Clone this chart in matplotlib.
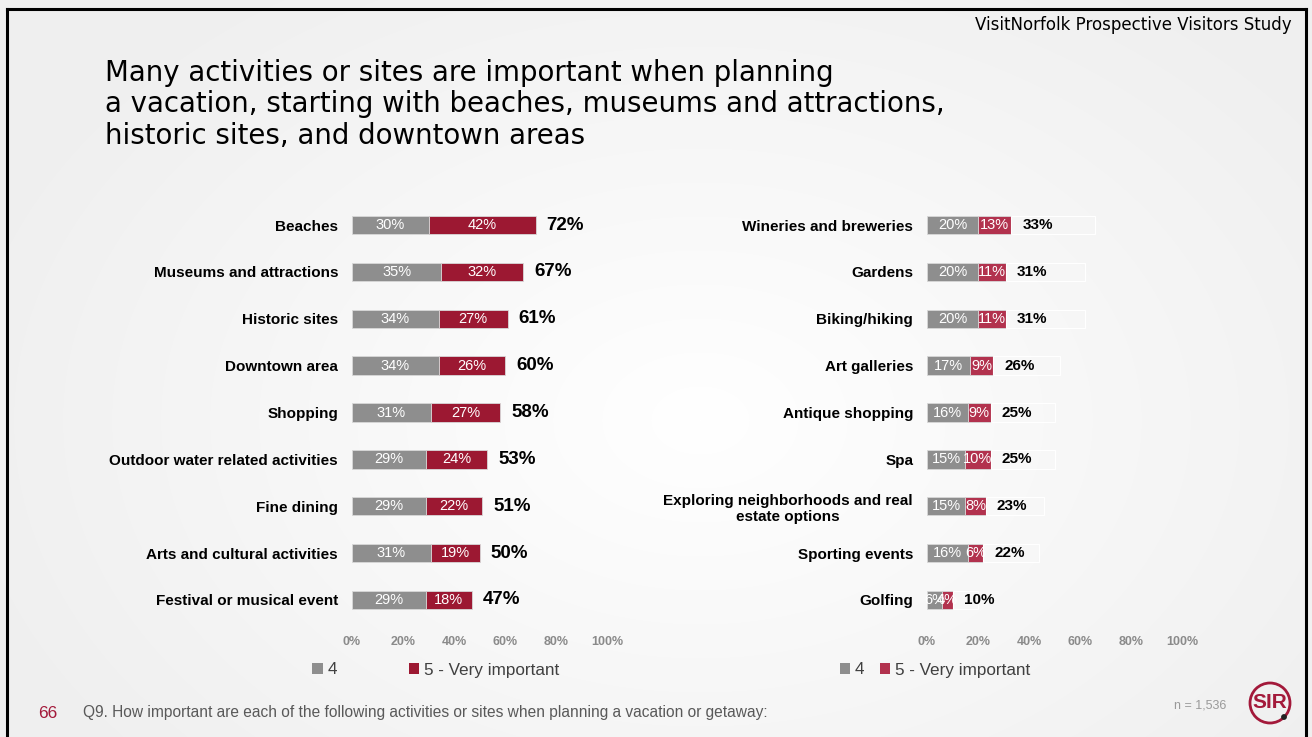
import numpy as np
import matplotlib
matplotlib.use("Agg")
import matplotlib.pyplot as plt
from matplotlib.patches import Patch, Circle

# ---- data ----
left_categories = ["Beaches", "Museums and attractions", "Historic sites", "Downtown area",
                   "Shopping", "Outdoor water related activities", "Fine dining",
                   "Arts and cultural activities", "Festival or musical event"]
left_four = [30, 35, 34, 34, 31, 29, 29, 31, 29]
left_five = [42, 32, 27, 26, 27, 24, 22, 19, 18]
left_total = [72, 67, 61, 60, 58, 53, 51, 50, 47]

right_categories = ["Wineries and breweries", "Gardens", "Biking/hiking", "Art galleries",
                    "Antique shopping", "Spa", "Exploring neighborhoods and real\nestate options",
                    "Sporting events", "Golfing"]
right_four = [20, 20, 20, 17, 16, 15, 15, 16, 6]
right_five = [13, 11, 11, 9, 9, 10, 8, 6, 4]
right_total = [33, 31, 31, 26, 25, 25, 23, 22, 10]

x_ticks = [0, 20, 40, 60, 80, 100]
x_tick_labels = ["0%", "20%", "40%", "60%", "80%", "100%"]
series_names = ["4", "5 - Very important"]

GRAY = "#8E8E8E"
RED_L = "#9C1832"
RED_R = "#B2324E"
REG = ["Liberation Sans", "DejaVu Sans"]
WIDE = ["DejaVu Sans"]

W, H = 1312, 737
fig = plt.figure(figsize=(W / 100, H / 100), dpi=100)

# soft slide background
bg = fig.add_axes([0, 0, 1, 1], zorder=-10)
yy, xx = np.mgrid[0:H, 0:W]
d = np.sqrt(((xx - 700) / 750.0) ** 2 + ((yy - 420) / 520.0) ** 2)
shade = 1.0 - 0.06 * np.clip(d, 0, 1)
bg.imshow(np.dstack([shade] * 3), extent=[0, W, H, 0], aspect="auto")
bg.set_xlim(0, W)
bg.set_ylim(H, 0)
bg.axis("off")

# slide frame
bg.plot([7, 7], [8.5, H + 5], color="black", lw=2.2)
bg.plot([7, 1306], [8.5, 8.5], color="black", lw=2.2)
bg.plot([1306, 1306], [8.5, H + 5], color="black", lw=2.2)


def px_axes(x0, x1, y0, y1):
    return fig.add_axes([x0 / W, 1 - y1 / H, (x1 - x0) / W, (y1 - y0) / H])


def draw_panel(ax, cats, four, five, total, red, lab_fs, tot_fs, outline):
    y = np.arange(len(cats))
    h = 0.39
    ax.barh(y, four, height=h, color=GRAY, edgecolor="#d8d8d8", lw=0.6)
    ax.barh(y, five, left=four, height=h, color=red, edgecolor="#d8d8d8", lw=0.6)
    if outline:
        ax.barh(y, total, left=total, height=h, color="none", edgecolor="white", lw=0.8)
    for i in range(len(cats)):
        ax.text(four[i] / 2, y[i], f"{four[i]}%", ha="center", va="center",
                color="white", fontsize=lab_fs, family=REG)
        ax.text(four[i] + five[i] / 2, y[i], f"{five[i]}%", ha="center", va="center",
                color="white", fontsize=lab_fs, family=REG)
        ax.annotate(f"{total[i]}%", (total[i], y[i]), xytext=(8, 0),
                    textcoords="offset points", ha="left", va="center",
                    fontsize=tot_fs, fontweight="bold", family=REG, color="black")
    ax.set_xlim(0, 100)
    ax.set_ylim(len(cats) - 0.5, -0.5)
    ax.set_yticks(y)
    ax.set_yticklabels(cats, fontsize=11, fontweight="bold", family=REG)
    for t in ax.get_yticklabels():
        t.set_multialignment("center")
    ax.set_xticks(x_ticks)
    ax.set_xticklabels(x_tick_labels, fontsize=9, fontweight="bold", color="#8a8a8a",
                       family=REG)
    ax.tick_params(axis="both", length=0)
    ax.tick_params(axis="y", pad=10)
    ax.tick_params(axis="x", pad=9)
    for s in ax.spines.values():
        s.set_visible(False)
    ax.patch.set_alpha(0)


axL = px_axes(352, 607, 201.6, 623.4)
draw_panel(axL, left_categories, left_four, left_five, left_total, RED_L, 10.5, 13.5, False)
axR = px_axes(927, 1182, 201.6, 623.4)
draw_panel(axR, right_categories, right_four, right_five, right_total, RED_R, 10.5, 11, True)


def legend(ax, red, x_center, spacing):
    handles = [Patch(facecolor=GRAY, edgecolor="none"), Patch(facecolor=red, edgecolor="none")]
    lg = ax.legend(handles, series_names, loc="center", ncol=2, frameon=False,
                   bbox_to_anchor=(x_center / W, 1 - 670 / H), bbox_transform=fig.transFigure,
                   handlelength=0.6, handleheight=0.6, handletextpad=0.3,
                   columnspacing=spacing, prop={"family": REG, "size": 12.3})
    for t in lg.get_texts():
        t.set_color("#404040")


legend(axL, RED_L, 436, 4.2)
legend(axR, RED_R, 935, 0.9)

# titles and notes
fig.text(1292 / W, 1 - 25 / H, "VisitNorfolk Prospective Visitors Study", ha="right",
         va="center", fontsize=12, family=WIDE, color="black")
fig.text(105 / W, 1 - 59 / H,
         "Many activities or sites are important when planning\n"
         "a vacation, starting with beaches, museums and attractions,\n"
         "historic sites, and downtown areas",
         ha="left", va="top", fontsize=19.9, family=WIDE, color="black", linespacing=1.15)
fig.text(38 / W, 1 - 713 / H, "66", ha="left", va="center", fontsize=12.5, family=REG,
         color="#A3193A")
fig.text(83 / W, 1 - 713 / H,
         "Q9. How important are each of the following activities or sites when planning a vacation or getaway:",
         ha="left", va="center", fontsize=11.2, family=REG, color="#595959")
fig.text(1226 / W, 1 - 706 / H, "n = 1,536", ha="right", va="center", fontsize=9,
         family=REG, color="#9a9a9a")

# logo
bg.add_patch(Circle((1270, 703), 20, fill=False, edgecolor="#A3193A", lw=2))
bg.text(1270, 703, "SIR", ha="center", va="center", fontsize=15, fontweight="bold",
        family=REG, color="#A3193A")
bg.add_patch(Circle((1284, 717), 2.2, color="#222222"))

fig.savefig("out.png", dpi=100)
